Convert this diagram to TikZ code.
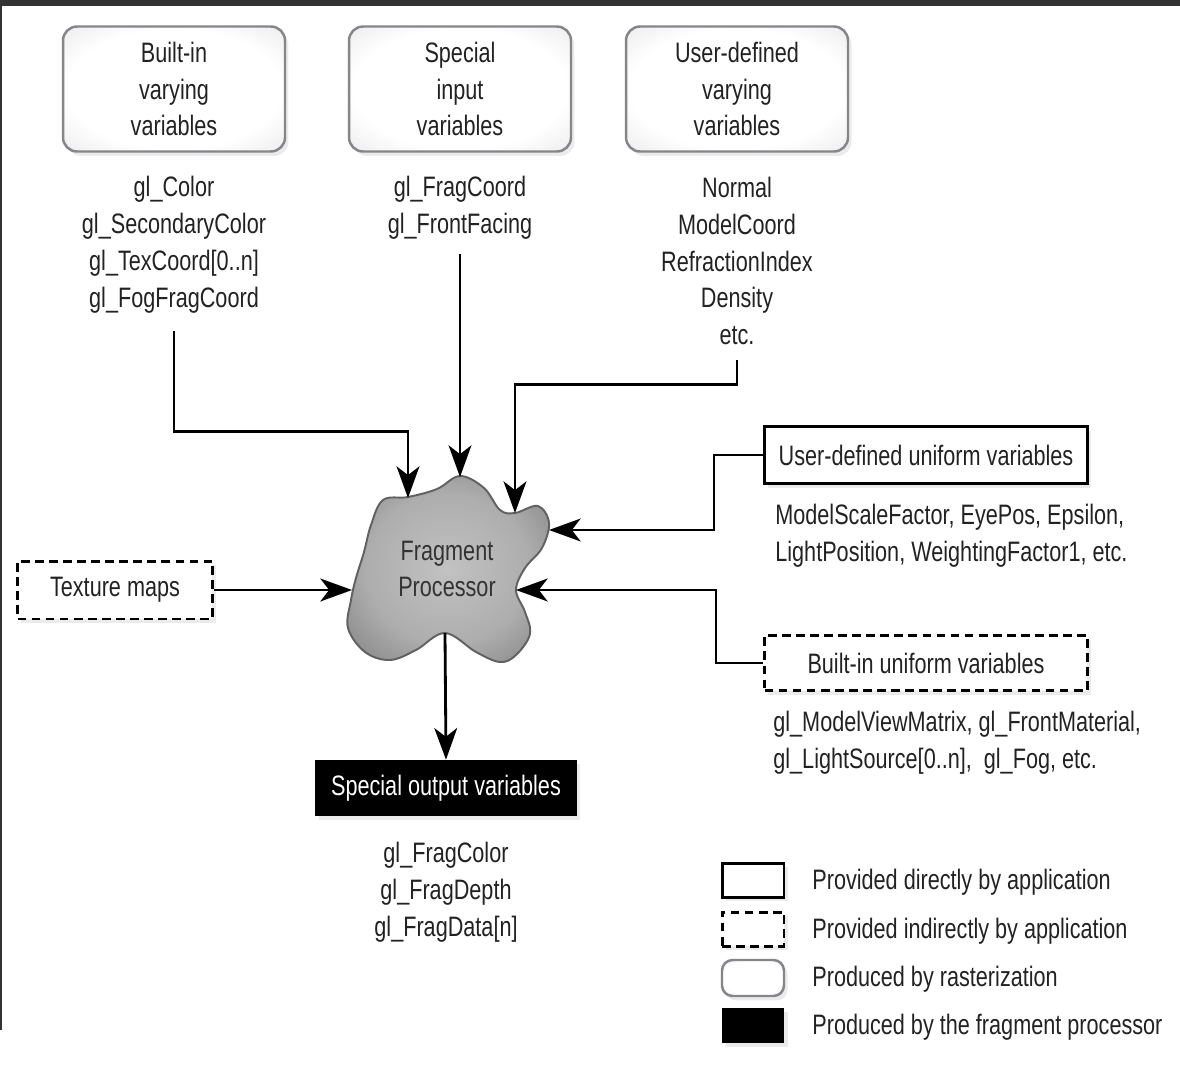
\documentclass[tikz,border=0pt]{standalone}
\usepackage{fontspec}
\setmainfont{Liberation Sans}[FakeStretch=0.77]
\usetikzlibrary{arrows.meta,shadows}

\definecolor{inkgray}{HTML}{222222}
\definecolor{rimgray}{HTML}{85858A}
% white middle, grey rim (rasterized inputs)
\pgfdeclareradialshading{rastershade}{\pgfpoint{0bp}{0bp}}{color(0bp)=(white); color(24bp)=(white); color(40bp)=(black!10); color(50bp)=(black!24)}
% the processor blob
\pgfdeclareradialshading{blobshade}{\pgfpoint{0bp}{0bp}}{color(0bp)=(black!24); color(20bp)=(black!32); color(36bp)=(black!50); color(50bp)=(black!68)}

\tikzset{
  txt/.style={font=\fontsize{16}{21}\selectfont, text=inkgray, inner sep=0pt, align=center},
  softshadow/.style={drop shadow={shadow xshift=2pt, shadow yshift=-2.5pt, opacity=0.08, fill=black}},
  rasterbox/.style={txt, draw=rimgray, line width=1.4pt, rounded corners=8pt, shade, shading=rastershade, softshadow},
  directbox/.style={txt, draw=black, line width=1.7pt, fill=white, softshadow},
  indirectbox/.style={txt, draw=black, line width=1.7pt, dash pattern=on 5pt off 3pt, fill=white, softshadow},
  outputbox/.style={txt, fill=black, text=white, softshadow},
  arr/.style={line width=1.6pt, -{Stealth[length=18pt,width=13pt,inset=5pt]}},
}

\begin{document}
\begin{tikzpicture}[x=0.02cm, y=-0.02cm]
\useasboundingbox (0,0) rectangle (1180,1072);
\fill[white] (0,0) rectangle (1180,1072);
\fill[black!80] (0,0) rectangle (1180,6);
\fill[black!80] (0,0) rectangle (2,1030);

% Top row: varying and special inputs
\node[rasterbox, minimum width=4.44cm, minimum height=2.5cm] (bvbox) at (174,89) {Built-in\\varying\\variables};
\node[rasterbox, minimum width=4.44cm, minimum height=2.5cm] (spbox) at (460,89) {Special\\input\\variables};
\node[rasterbox, minimum width=4.44cm, minimum height=2.5cm] (udbox) at (737,89) {User-defined\\varying\\variables};

\node[txt] (bvlist) at (174,245) {gl\_Color\\gl\_SecondaryColor\\gl\_TexCoord[0..n]\\gl\_FogFragCoord};
\node[txt] (splist) at (460,208) {gl\_FragCoord\\gl\_FrontFacing};
\node[txt] (udlist) at (737,261) {Normal\\ModelCoord\\RefractionIndex\\Density\\etc.};

% Fragment processor blob
\shade[shading=blobshade, draw=black!62, line width=1.1pt]
  plot[smooth cycle, tension=0.6] coordinates {
    (383,500) (408,497) (437,489) (460,476) (484,488) (500,510) (515,513)
    (538,506) (549,523) (542,548) (525,568) (516,590) (525,612) (530,634)
    (516,655) (500,662) (476,652) (445,633) (416,650) (390,660) (365,652)
    (348,628) (351,600) (356,578) (364,552) (371,525)};
\node[txt, text=black!80] (frag) at (447,569) {Fragment\\Processor};

\coordinate (fragA) at (408,498);
\coordinate (fragB) at (460,477);
\coordinate (fragC) at (515,513);
\coordinate (fragR1) at (549,530);
\coordinate (fragR2) at (516,590);
\coordinate (fragL) at (352,590);
\coordinate (fragD) at (445,633);

% Uniforms on the right
\node[directbox, minimum width=6.46cm, minimum height=1.14cm] (uubox) at (926,455) {User-defined uniform variables};
\node[txt, anchor=west, align=left] (uulist) at (775,536) {ModelScaleFactor, EyePos, Epsilon,\\LightPosition, WeightingFactor1, etc.};
\node[indirectbox, minimum width=6.46cm, minimum height=1.1cm] (bubox) at (926,663) {Built-in uniform variables};
\node[txt, anchor=west, align=left] (bulist) at (773,743) {gl\_ModelViewMatrix, gl\_FrontMaterial,\\gl\_LightSource[0..n],\ \ gl\_Fog, etc.};

% Texture maps on the left
\node[indirectbox, minimum width=3.9cm, minimum height=1.16cm] (texbox) at (115,590) {Texture maps};

% Output
\node[outputbox, minimum width=5.24cm, minimum height=1.12cm] (outbox) at (446,788) {Special output variables};
\node[txt] (outlist) at (446,892) {gl\_FragColor\\gl\_FragDepth\\gl\_FragData[n]};

% Connectors
\draw[arr, shorten <=10pt] (bvlist.south) -- ++(0,118) -| (fragA);
\draw[arr, shorten <=8pt] (splist.south) -- (fragB);
\draw[arr, shorten <=8pt] (udlist.south) -- ++(0,39) -| (fragC);
\draw[arr] (uubox.west) -- ++(-49,0) |- (fragR1);
\draw[arr] (bubox.west) -- ++(-47,0) |- (fragR2);
\draw[arr] (texbox.east) -- (fragL);
\draw[arr] (fragD) -- (outbox.north);

% Legend
\node[directbox, minimum width=1.24cm, minimum height=0.68cm] (legdirect) at (753,880) {};
\node[indirectbox, minimum width=1.24cm, minimum height=0.68cm] (legindirect) at (753,929) {};
\node[rasterbox, rounded corners=6pt, minimum width=1.24cm, minimum height=0.72cm] (legraster) at (753,978) {};
\node[outputbox, minimum width=1.24cm, minimum height=0.7cm] (legoutput) at (753,1025) {};
\node[txt, anchor=west] (legdirecttxt) at (812,882) {Provided directly by application};
\node[txt, anchor=west] (legindirecttxt) at (812,931) {Provided indirectly by application};
\node[txt, anchor=west] (legrastertxt) at (812,979) {Produced by rasterization};
\node[txt, anchor=west] (legoutputtxt) at (812,1027) {Produced by the fragment processor};

\end{tikzpicture}
\end{document}
